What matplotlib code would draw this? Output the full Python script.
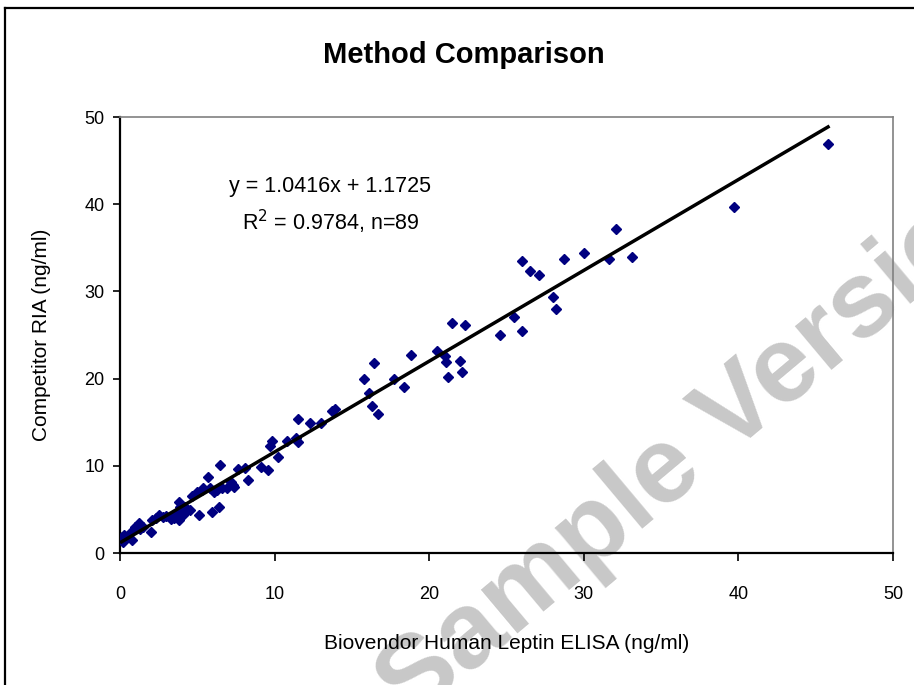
import numpy as np
import matplotlib
matplotlib.use("Agg")
import matplotlib.pyplot as plt
from matplotlib.lines import Line2D

plt.rcParams['font.family'] = ['Liberation Sans', 'DejaVu Sans']

# ----------------------------
# data
# ----------------------------
elisa = [0.2, 0.25, 0.1, 0.8, 0.7, 1.0, 1.2, 1.5, 2.0, 2.1, 2.3, 2.5, 3.0, 3.3, 3.5,
         3.8, 3.8, 3.9, 4.1, 4.2, 4.55, 4.65, 5.0, 5.1, 5.4, 5.7, 5.8, 5.95, 6.3, 6.4,
         6.5, 6.6, 7.2, 7.3, 7.4, 7.65, 8.1, 8.3, 9.1, 9.6, 9.7, 9.8, 10.2, 10.8, 11.4,
         11.5, 11.5, 12.3, 13.0, 13.7, 13.9, 15.8, 16.1, 16.3, 16.4, 16.7, 17.7, 18.4, 18.8,
         20.5, 21.0, 21.1, 21.2, 21.5, 22.0, 22.1, 22.3, 24.6, 25.5, 26.0, 26.0, 26.5, 27.1,
         28.0, 28.2, 28.7, 30.0, 31.6, 32.1, 33.1, 39.7, 45.8,
         1.3, 2.8, 3.6, 4.3, 5.3, 6.1, 6.9]
ria = [1.3, 2.1, 1.8, 1.5, 2.4, 3.0, 3.4, 3.0, 2.4, 3.8, 4.0, 4.4, 4.2, 3.9, 4.0,
       3.8, 5.9, 5.3, 4.4, 5.3, 4.9, 6.5, 7.0, 4.4, 7.4, 8.7, 7.4, 4.7, 7.2, 5.3,
       10.1, 7.4, 8.1, 7.8, 7.6, 9.6, 9.8, 8.4, 9.9, 9.5, 12.3, 12.8, 11.0, 12.9, 13.2,
       12.7, 15.4, 14.9, 14.9, 16.3, 16.5, 20.0, 18.4, 16.9, 21.8, 16.0, 20.0, 19.0, 22.7,
       23.2, 22.6, 21.9, 20.2, 26.4, 22.0, 20.8, 26.1, 25.0, 27.1, 25.5, 33.5, 32.4, 31.9,
       29.4, 28.0, 33.7, 34.4, 33.7, 37.2, 33.9, 39.7, 46.9,
       2.8, 4.1, 4.5, 4.8, 7.2, 7.0, 7.5]

slope, intercept = 1.0416, 1.1725

fig = plt.figure(figsize=(9.14, 6.85), dpi=100)
fig.patch.set_facecolor("white")
ax = fig.add_axes([0.1313, 0.1927, 0.8457, 0.6363])
ax.patch.set_alpha(0)

ax.plot(elisa, ria, linestyle="none", marker="D", markersize=4.8,
        color="#000080", zorder=3)
xfit = np.array([min(elisa), max(elisa)])
ax.plot(xfit, slope * xfit + intercept, color="black", linewidth=2.5, zorder=4)

ax.set_xlim(0, 50)
ax.set_ylim(0, 50)
ax.set_xticks(range(0, 51, 10))
ax.set_yticks(range(0, 51, 10))
ax.tick_params(axis="x", direction="out", length=6, width=1.2, labelsize=13, pad=18)
ax.tick_params(axis="y", direction="out", length=5, width=1.2, labelsize=13, pad=6)

for s in ("left", "bottom"):
    ax.spines[s].set_color("black")
    ax.spines[s].set_linewidth(1.6)
for s in ("top", "right"):
    ax.spines[s].set_color("#808080")
    ax.spines[s].set_linewidth(1.2)

ax.set_xlabel("Biovendor Human Leptin ELISA (ng/ml)", fontsize=15, labelpad=22)
ax.set_ylabel("Competitor RIA (ng/ml)", fontsize=15, labelpad=24)
fig.text(0.508, 0.92, "Method Comparison", ha="center", va="center",
         fontsize=21, fontweight="bold")

ax.text(0.272, 0.842, "y = 1.0416x + 1.1725", transform=ax.transAxes,
        ha="center", va="center", fontsize=15.5)
ax.text(0.272, 0.759, r"R$^2$ = 0.9784, n=89", transform=ax.transAxes,
        ha="center", va="center", fontsize=15.5)

# outer chart border (top and left visible)
fig.add_artist(Line2D([5 / 914, 1], [1 - 8 / 685, 1 - 8 / 685], color="black", linewidth=1.6))
fig.add_artist(Line2D([5 / 914, 5 / 914], [0, 1 - 8 / 685], color="black", linewidth=1.6))

# watermark, behind the chart
fig.text(0.768, 0.355, "Sample Version", ha="center", va="center", rotation=40,
         fontsize=78, fontweight="bold", color="#c8c8c8", zorder=-1)

fig.savefig("out.png", dpi=100, facecolor="white")
